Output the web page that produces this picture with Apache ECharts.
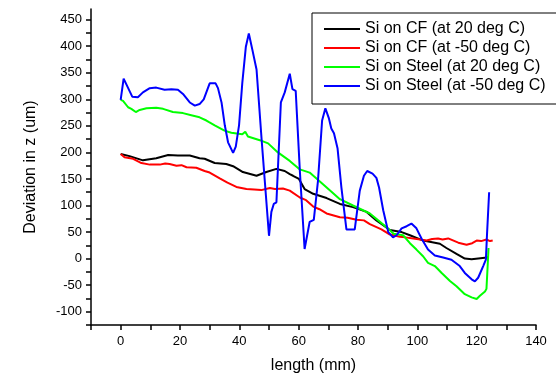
<!DOCTYPE html>
<html><head><meta charset="utf-8">
<script src="https://cdn.jsdelivr.net/npm/echarts@6/dist/echarts.min.js"></script>
<style>html,body{margin:0;padding:0;background:#fff}#c{width:556px;height:379px}</style>
</head><body><div id="c"></div>
<script>
const seriesNames = ['Si on CF (at 20 deg C)', 'Si on CF (at -50 deg C)', 'Si on Steel (at 20 deg C)', 'Si on Steel (at -50 deg C)'];
const seriesColors = ['#000000', '#ff0000', '#00ff00', '#0000ff'];

const cf20X = [0,3,7.5,12,16,19.3,23.3,26.6,28.3,31.7,35.6,37.9,41.2,45.8,49.1,52.5,55.3,57,58.1,60.1,62,64.9,69.4,73.9,78.3,82.9,86.2,88.5,90.7,94.7,97.5,102,107.6,109.8,113.2,116,118.3,123.5,124];
const cf20Y = [197,193,185,189,195,194,194,189,188,180,178,174,163,156,163,169,165,159,156,150,131,122,114,103,97,88,72,63,54,50,44,34,28,20,9,0,-1,2,3];

const cfm50X = [0,1.3,4.2,7,9.8,13.2,15,16.5,18.8,20.5,22.2,25.5,28.3,30,33.4,36,39,42.4,45,47.4,50.3,52,54.7,57,60.4,62.5,64.9,67,69.4,73.9,76.5,79.5,82,84,87.9,90.5,94.1,96,98.6,101,103.1,105,107,108.5,110.4,113.8,116.6,118.5,120,121.5,123.3,124.5,125.4];
const cfm50Y = [197,191,188,180,177,177,179,178,175,176,172,171,165,162,151,143,135,131,130,129,133,131,132,128,115,110,98,93,85,78,77,73,72,65,55,46,41,40,38,36,34,37,38,36,38,30,26,29,34,33,36,33,34];

const st20X = [0,0.8,2.5,3.6,5.1,6.4,8.7,12,14.3,17.6,21,23.8,26.6,28.9,29.8,31.7,35,37.3,41,42,42.9,46.9,49.7,53,57,60.4,63.7,68.2,73.9,78.3,84,86.8,90.5,92,95.2,97.5,99.7,102,103.6,105.9,108.2,111,113.2,116,118.3,120,121.1,122.8,123.3,123.7,124];
const st20Y = [299,297,285,282,276,280,283,284,282,276,274,270,266,260,257,251,241,237,234,239,230,223,217,200,184,168,162,140,112,100,85,72,55,47,44,29,17,4,-8,-14,-27,-42,-52,-67,-73,-76,-70,-62,-57,-14,20];

const stm50X = [0,1,3.9,5.8,7.5,9.8,12,14.8,17.1,19.3,21,23.3,25,26.6,28,30,32,32.8,34,35.1,36.2,37.9,38.8,39.9,41,42.2,43.2,44.4,45.8,46.3,47.5,50,50.8,51.6,52.5,54,55.3,57,57.9,59,60.4,62,63.7,65.1,66.5,67.9,69,70.2,71,71.9,73.1,74.4,76.1,78.9,80.6,82,83.1,84.9,86.2,87.1,88.5,90.2,91.8,93,94.7,96.4,98,99.7,101.4,103.6,105.9,108.7,111.5,114.3,116,118.3,119.4,120.5,122.2,123.1,123.5,124.2];
const stm50Y = [299,339,305,304,313,321,322,318,319,318,310,294,288,291,300,330,330,321,294,251,219,199,211,251,331,399,424,393,356,353,225,43,88,103,106,294,313,348,319,316,165,18,69,73,146,260,283,264,245,236,208,134,55,55,128,156,165,160,152,134,91,50,40,44,57,61,66,57,38,17,6,2,-2,-14,-27,-39,-43,-36,-14,-2,47,125];

const xTickValues = [-10,0,10,20,30,40,50,60,70,80,90,100,110,120,130,140];
const xLabelValues = [0,20,40,60,80,100,120,140];
const yTickValues = [-125,-100,-75,-50,-25,0,25,50,75,100,125,150,175,200,225,250,275,300,325,350,375,400,425,450];
const yLabelValues = [-100,-50,0,50,100,150,200,250,300,350,400,450];

const allX = [cf20X, cfm50X, st20X, stm50X];
const allY = [cf20Y, cfm50Y, st20Y, stm50Y];

const font = "'Liberation Sans', Arial, sans-serif";
const chart = echarts.init(document.getElementById('c'), null, {renderer: 'canvas'});
chart.setOption({
  animation: false,
  backgroundColor: '#ffffff',
  grid: {left: 91, right: 20, top: 9, bottom: 49, containLabel: false},
  legend: {
    orient: 'vertical', left: 312, top: 13,
    data: seriesNames,
    icon: 'rect', itemWidth: 36, itemHeight: 2, itemGap: 3,
    padding: [8, 15, 10, 12],
    borderColor: '#000', borderWidth: 1, borderRadius: 0,
    textStyle: {fontFamily: font, fontSize: 16, color: '#000', lineHeight: 16}
  },
  xAxis: {
    type: 'value', min: -10, max: 140, interval: 10,
    name: 'length (mm)', nameLocation: 'middle', nameGap: 33,
    nameTextStyle: {fontFamily: font, fontSize: 16, color: '#000'},
    axisLine: {show: true, onZero: false, lineStyle: {color: '#000', width: 1.5}},
    axisTick: {show: true, length: 5, inside: false, customValues: xTickValues, lineStyle: {color: '#000', width: 1.5}},
    axisLabel: {customValues: xLabelValues, margin: 10, fontFamily: font, fontSize: 13, color: '#000'},
    splitLine: {show: false}
  },
  yAxis: {
    type: 'value', min: -125, max: 470, interval: 25,
    name: 'Deviation in z (um)', nameLocation: 'middle', nameGap: 52,
    nameTextStyle: {fontFamily: font, fontSize: 16, color: '#000'},
    axisLine: {show: true, onZero: false, lineStyle: {color: '#000', width: 1.5}},
    axisTick: {show: true, length: 5, inside: false, customValues: yTickValues, lineStyle: {color: '#000', width: 1.5}},
    axisLabel: {customValues: yLabelValues, margin: 9, fontFamily: font, fontSize: 13, color: '#000'},
    splitLine: {show: false}
  },
  series: seriesNames.map((n, i) => ({
    name: n, type: 'line', showSymbol: false, symbol: 'none',
    data: allX[i].map((x, j) => [x, allY[i][j]]),
    lineStyle: {color: seriesColors[i], width: 2},
    itemStyle: {color: seriesColors[i]},
    z: 2 + i
  }))
});
</script></body></html>
